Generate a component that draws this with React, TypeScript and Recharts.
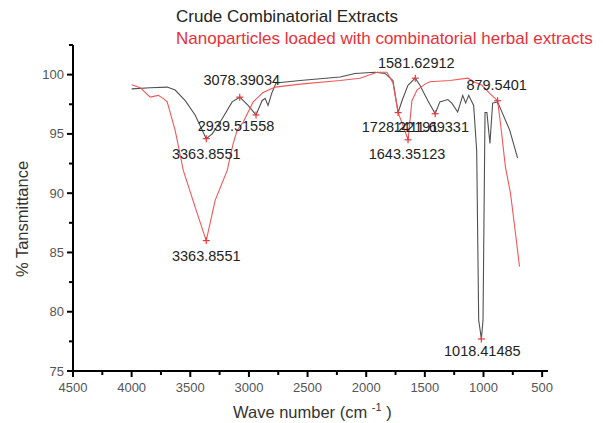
import {
  ComposedChart,
  Line,
  Scatter,
  XAxis,
  YAxis,
} from "recharts";

type Pt = { wn: number; t: number };
type Peak = { wn: number; t: number; label: string };

// Crude Combinatorial Extracts (dark grey trace)
const crudeWn = [
  4000, 3842, 3697, 3629, 3543, 3459, 3364, 3313, 3227, 3143, 3078, 3007, 2940,
  2888, 2862, 2837, 2803, 2769, 2564, 2223, 2096, 1925, 1840, 1772, 1728, 1695,
  1644, 1582, 1542, 1474, 1412, 1372, 1304, 1270, 1220, 1177, 1152, 1126, 1084,
  1058, 1041, 1018, 1004, 987, 971, 945, 922, 880, 776, 709,
];
const crudeT = [
  98.8, 98.9, 98.95, 98.7, 97.8, 96.6, 94.6, 95.0, 96.3, 97.7, 98.1, 97.4, 96.6,
  97.8, 98.0, 97.4, 98.5, 99.3, 99.5, 99.8, 100.1, 100.2, 100.1, 99.5, 96.8, 97.8,
  99.1, 99.7, 99.1, 97.8, 96.7, 97.7, 97.9, 97.6, 96.85, 98.25, 97.6, 98.25, 97.4,
  93.6, 79.3, 77.7, 79.3, 96.8, 96.8, 94.2, 97.6, 97.7, 95.3, 92.95,
];

// Nanoparticles loaded with combinatorial herbal extracts (red trace)
const nanoWn = [
  4000, 3927, 3842, 3773, 3731, 3697, 3629, 3559, 3441, 3364, 3288, 3186, 3134,
  3100, 3048, 2964, 2879, 2776, 2563, 2223, 2053, 1908, 1823, 1772, 1728, 1686,
  1643, 1610, 1567, 1499, 1457, 1287, 1134, 1073, 1013, 945, 880, 855, 813, 770,
  727, 693,
];
const nanoT = [
  99.15, 98.9, 98.1, 98.25, 98.0, 97.7, 95.3, 91.9, 88.3, 86.0, 89.4, 91.9, 94.2,
  95.3, 96.0, 97.7, 98.5, 98.95, 99.2, 99.5, 99.7, 100.2, 100.2, 99.3, 96.8, 95.7,
  94.5, 97.8, 98.7, 99.2, 99.4, 99.5, 99.7, 99.35, 99.1, 98.4, 97.8, 95.9, 92.2,
  90.0, 86.6, 83.8,
];

// picked peaks
const peakWn = [3363.8551, 3363.8551, 3078.39034, 2939.51558, 1728.22191, 1643.35123, 1581.62912, 1411.69331, 1018.41485, 879.5401];
const peakT = [94.6, 86.0, 98.1, 96.6, 96.8, 94.5, 99.7, 96.7, 77.7, 97.8];
const peakLabels = ["3363.8551", "3363.8551", "3078.39034", "2939.51558", "1728.22191", "1643.35123", "1581.62912", "1411.69331", "1018.41485", "879.5401"];

const xTicks = [500, 750, 1000, 1250, 1500, 1750, 2000, 2250, 2500, 2750, 3000, 3250, 3500, 3750, 4000, 4250, 4500];
const yTicks = [75, 77.5, 80, 82.5, 85, 87.5, 90, 92.5, 95, 97.5, 100, 102.5];

const zip = (w: number[], t: number[]): Pt[] => w.map((wn, i) => ({ wn, t: t[i] }));
const crude = zip(crudeWn, crudeT);
const nano = zip(nanoWn, nanoT);
const peaks: Peak[] = peakWn.map((wn, i) => ({ wn, t: peakT[i], label: peakLabels[i] }));

const FONT = "'Liberation Sans', Arial, sans-serif";

// label offsets relative to the marker (index into peaks)
const labelOffset: [number, number][] = [
  [0, 20], [0, 20], [2, -12], [-20, 16], [2, 19], [-1, 19], [1, -10], [-4, 18], [1, 17], [-1, -11],
];

function XTick(props: any) {
  const { x, y, payload } = props;
  const major = payload.value % 500 === 0;
  return (
    <g>
      <line x1={x} x2={x} y1={y} y2={y + (major ? 6 : 4)} stroke="#000" strokeWidth={2} />
      {major && (
        <text x={x} y={y + 21} textAnchor="middle" fontSize={13} fill="#555" fontFamily={FONT}>
          {payload.value}
        </text>
      )}
    </g>
  );
}

function YTick(props: any) {
  const { x, y, payload } = props;
  const major = payload.value % 5 === 0;
  return (
    <g>
      <line x1={x} x2={x - (major ? 6 : 4)} y1={y} y2={y} stroke="#000" strokeWidth={2} />
      {major && (
        <text x={x - 9} y={y + 4.5} textAnchor="end" fontSize={13} fill="#555" fontFamily={FONT}>
          {payload.value}
        </text>
      )}
    </g>
  );
}

function PeakMark(props: any) {
  const { cx, cy, index } = props;
  const p: Peak = props.payload;
  const [dx, dy] = labelOffset[index] ?? [0, 18];
  return (
    <g>
      <line x1={cx - 3.5} x2={cx + 3.5} y1={cy} y2={cy} stroke="#e8383a" strokeWidth={1.2} />
      <line x1={cx} x2={cx} y1={cy - 3.5} y2={cy + 3.5} stroke="#e8383a" strokeWidth={1.2} />
      <text x={cx + dx} y={cy + dy} textAnchor="middle" fontSize={14.5} fill="#222" fontFamily={FONT}>
        {p.label}
      </text>
    </g>
  );
}

function YTitle() {
  return (
    <text
      x={22}
      y={219}
      transform="rotate(-90 22 219)"
      textAnchor="middle"
      dominantBaseline="central"
      fontSize={16.5}
      fill="#333"
      fontFamily={FONT}
    >
      % Tansmittance
    </text>
  );
}

function XTitle() {
  return (
    <text x={233} y={418} fontSize={16.5} fill="#333" fontFamily={FONT}>
      Wave number (cm{" "}
      <tspan dy={-7} fontSize={11}>-1</tspan>
      <tspan dy={7}> )</tspan>
    </text>
  );
}

export default function App() {
  return (
    <div
      style={{
        position: "absolute",
        left: 0,
        top: 0,
        width: 603,
        height: 423,
        background: "#fff",
        fontFamily: FONT,
      }}
    >
      <div style={{ position: "absolute", left: 176, top: 7, fontSize: 17, color: "#222", whiteSpace: "nowrap" }}>
        Crude Combinatorial Extracts
      </div>
      <div style={{ position: "absolute", left: 176, top: 29, fontSize: 17, color: "#e8303a", whiteSpace: "nowrap" }}>
        Nanoparticles loaded with combinatorial herbal extracts
      </div>
      <ComposedChart width={603} height={423} margin={{ top: 45, right: 55, left: 0, bottom: 0 }}>
        <XAxis
          type="number"
          dataKey="wn"
          domain={[450, 4500]}
          reversed
          ticks={xTicks}
          interval={0}
          tickSize={0}
          tickMargin={0}
          tick={<XTick />}
          axisLine={{ stroke: "#000", strokeWidth: 2 }}
          tickLine={false}
          height={52}
          allowDataOverflow
          label={<XTitle />}
        />
        <YAxis
          type="number"
          domain={[75, 102.5]}
          ticks={yTicks}
          interval={0}
          tickSize={0}
          tickMargin={0}
          tick={<YTick />}
          axisLine={{ stroke: "#000", strokeWidth: 2 }}
          tickLine={false}
          width={73}
          allowDataOverflow
          label={<YTitle />}
        />
        <Line
          data={crude}
          dataKey="t"
          type="linear"
          stroke="#4f5050"
          strokeWidth={1.1}
          dot={false}
          isAnimationActive={false}
        />
        <Line
          data={nano}
          dataKey="t"
          type="linear"
          stroke="#f0585a"
          strokeWidth={1.1}
          dot={false}
          isAnimationActive={false}
        />
        <Scatter data={peaks} dataKey="t" shape={<PeakMark />} isAnimationActive={false} />
      </ComposedChart>
    </div>
  );
}
